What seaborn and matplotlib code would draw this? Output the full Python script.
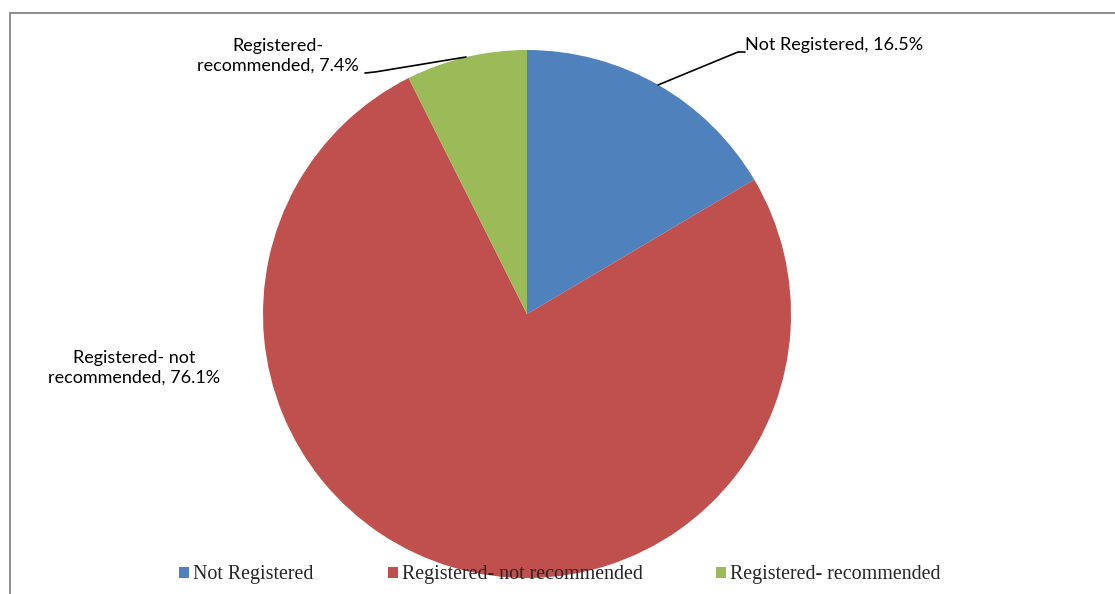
import matplotlib
matplotlib.use("Agg")
import matplotlib.pyplot as plt
from matplotlib.lines import Line2D
from matplotlib.patches import Patch
import seaborn as sns

categories = ["Not Registered", "Registered- not recommended", "Registered- recommended"]
shares = [16.5, 76.1, 7.4]
slice_labels = ["Not Registered, 16.5%", "Registered- not\nrecommended, 76.1%", "Registered-\nrecommended, 7.4%"]

sns.set_theme(style="white")
palette = ["#4F81BD", "#C0504D", "#9BBB59"]
label_font = ["Lato", "DejaVu Sans"]
legend_font = ["Liberation Serif", "DejaVu Serif"]

W, H = 1115, 594
fig = plt.figure(figsize=(W / 100, H / 100), dpi=100)
fig.patch.set_facecolor("white")

# pie axes: centre (527, 314) px, radius 264 px
cx, cy, r = 527, 314, 264
ax = fig.add_axes([(cx - r) / W, (H - cy - r) / H, 2 * r / W, 2 * r / H])
ax.pie(shares, colors=palette, startangle=90, counterclock=False, radius=1.0,
       wedgeprops=dict(linewidth=0))
ax.set_xlim(-1, 1)
ax.set_ylim(-1, 1)
ax.set_aspect("equal")
ax.axis("off")


def px(x, y):
    return ((x - cx) / r, (cy - y) / r)


LABEL_SIZE = 13

# label for "Not Registered" with leader line
x0, y0 = px(658, 85)
x1, y1 = px(738, 52)
x2, y2 = px(745, 52)
ax.plot([x0, x1, x2], [y0, y1, y2], color="black", lw=1.2, clip_on=False)
tx, ty = px(745, 45)
ax.text(tx, ty, slice_labels[0], ha="left", va="center", fontsize=LABEL_SIZE,
        family=label_font, color="black", clip_on=False)

# label for "Registered- recommended" with leader line
x0, y0 = px(466, 57)
x1, y1 = px(375, 72)
x2, y2 = px(365, 73)
ax.plot([x0, x1, x2], [y0, y1, y2], color="black", lw=1.2, clip_on=False)
tx, ty = px(278, 56)
ax.text(tx, ty, slice_labels[2], ha="center", va="center", fontsize=LABEL_SIZE,
        family=label_font, color="black", linespacing=1.3, clip_on=False)

# label for "Registered- not recommended"
tx, ty = px(134, 368)
ax.text(tx, ty, slice_labels[1], ha="center", va="center", fontsize=LABEL_SIZE,
        family=label_font, color="black", linespacing=1.3, clip_on=False)

# legend along the bottom
handles = [Patch(facecolor=c, edgecolor="none") for c in palette]
fig.legend(handles, categories, loc="center", bbox_to_anchor=(560 / W, 1 - 575 / H),
           ncol=3, frameon=False, handlelength=0.5, handleheight=0.5,
           handletextpad=0.2, columnspacing=3.7,
           prop=dict(family=legend_font, size=14.4))

# chart frame (top and left edges visible)
frame_col = "#868686"
fig.add_artist(Line2D([10 / W, 1.0], [1 - 12.5 / H, 1 - 12.5 / H], color=frame_col, lw=1.3,
                      transform=fig.transFigure))
fig.add_artist(Line2D([10 / W, 10 / W], [0.0, 1 - 12.5 / H], color=frame_col, lw=1.3,
                      transform=fig.transFigure))

fig.savefig("out.png", dpi=100, facecolor="white")
